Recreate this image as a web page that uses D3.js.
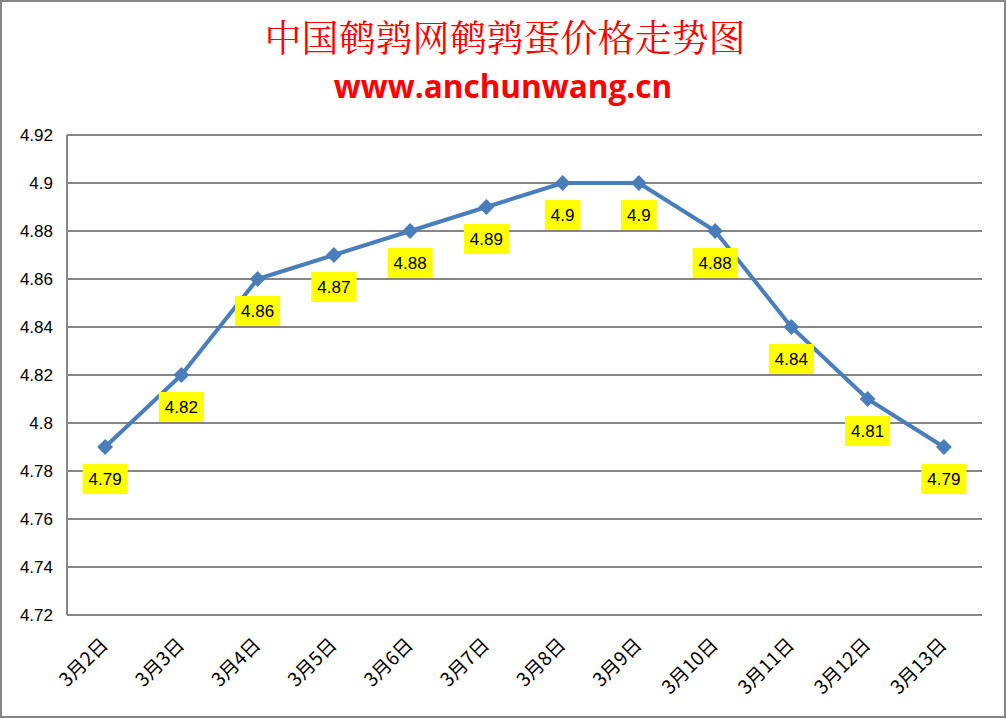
<!DOCTYPE html>
<html><head><meta charset="utf-8">
<script src="https://cdn.jsdelivr.net/npm/d3@7"></script>
<style>body{margin:0;background:#fff}svg{display:block}</style>
</head><body>
<svg id="c" width="1007" height="719"></svg>
<script>
const categories = ["3月2日","3月3日","3月4日","3月5日","3月6日","3月7日","3月8日","3月9日","3月10日","3月11日","3月12日","3月13日"];
const values = [4.79,4.82,4.86,4.87,4.88,4.89,4.9,4.9,4.88,4.84,4.81,4.79];
const valueLabels = ["4.79","4.82","4.86","4.87","4.88","4.89","4.9","4.9","4.88","4.84","4.81","4.79"];
const yTicks = [4.72,4.74,4.76,4.78,4.8,4.82,4.84,4.86,4.88,4.9,4.92];
const yTickLabels = ["4.72","4.74","4.76","4.78","4.8","4.82","4.84","4.86","4.88","4.9","4.92"];
const title = "中国鹌鹑网鹌鹑蛋价格走势图";
const subtitle = "www.anchunwang.cn";

const svg = d3.select("#c");
svg.append("rect").attr("x",1).attr("y",1).attr("width",1004).attr("height",716)
  .attr("fill","#fff").attr("stroke","#868686").attr("stroke-width",2);

const L=67,R=982,T=135,B=615;
const x = d3.scalePoint().domain(categories).range([L,R]).padding(0.5);
const y = d3.scaleLinear().domain([4.72,4.92]).range([B,T]);

svg.append("text").attr("x",505).attr("y",52).attr("text-anchor","middle")
  .attr("font-family","'Noto Serif CJK SC','Noto Sans CJK SC',serif").attr("font-size",37)
  .attr("fill","#ff0000").text(title);
svg.append("text").attr("x",503).attr("y",98).attr("text-anchor","middle")
  .attr("font-family","'Open Sans','Liberation Sans',sans-serif").attr("font-weight","bold").attr("font-size",31.5)
  .attr("fill","#ff0000").text(subtitle);

// gridlines
svg.append("g").selectAll("line").data(yTicks).join("line")
  .attr("x1",L).attr("x2",R).attr("y1",d=>y(d)).attr("y2",d=>y(d))
  .attr("stroke","#868686").attr("stroke-width",2);
svg.append("line").attr("x1",L).attr("x2",L).attr("y1",T).attr("y2",B)
  .attr("stroke","#868686").attr("stroke-width",2);

// y labels
svg.append("g").selectAll("text").data(yTicks).join("text")
  .attr("x",53).attr("y",d=>y(d)+6).attr("text-anchor","end")
  .attr("font-family","'Liberation Sans',Arial,sans-serif").attr("font-size",17).attr("fill","#000")
  .text((d,i)=>yTickLabels[i]);

// x labels
svg.append("g").selectAll("text").data(categories).join("text")
  .attr("transform",d=>`translate(${x(d)+4},${646}) rotate(-45)`)
  .attr("text-anchor","end")
  .attr("font-family","'Noto Sans CJK SC',sans-serif").attr("font-size",19).attr("fill","#000")
  .text(d=>d);

// line
const line = d3.line().x((d,i)=>x(categories[i])).y(d=>y(d));
svg.append("path").datum(values).attr("d",line).attr("fill","none")
  .attr("stroke","#4a7ebb").attr("stroke-width",4).attr("stroke-linejoin","round").attr("stroke-linecap","round");

// markers
svg.append("g").selectAll("path").data(values).join("path")
  .attr("d",d3.symbol().type(d3.symbolSquare).size(125))
  .attr("transform",(d,i)=>`translate(${x(categories[i])},${y(d)}) rotate(45)`)
  .attr("fill","#4a7ebb");

// labels
const lg = svg.append("g").selectAll("g").data(values).join("g")
  .attr("transform",(d,i)=>`translate(${x(categories[i])},${y(d)+32})`);
lg.each(function(d,i){
  const g=d3.select(this);
  const t=g.append("text").attr("text-anchor","middle").attr("y",6)
    .attr("font-family","'Liberation Sans',Arial,sans-serif").attr("font-size",17).attr("fill","#000")
    .text(valueLabels[i]);
  const w=t.node().getComputedTextLength()+12;
  g.insert("rect","text").attr("x",-w/2).attr("y",-15).attr("width",w).attr("height",30).attr("fill","#ffff00");
});
</script>
</body></html>
